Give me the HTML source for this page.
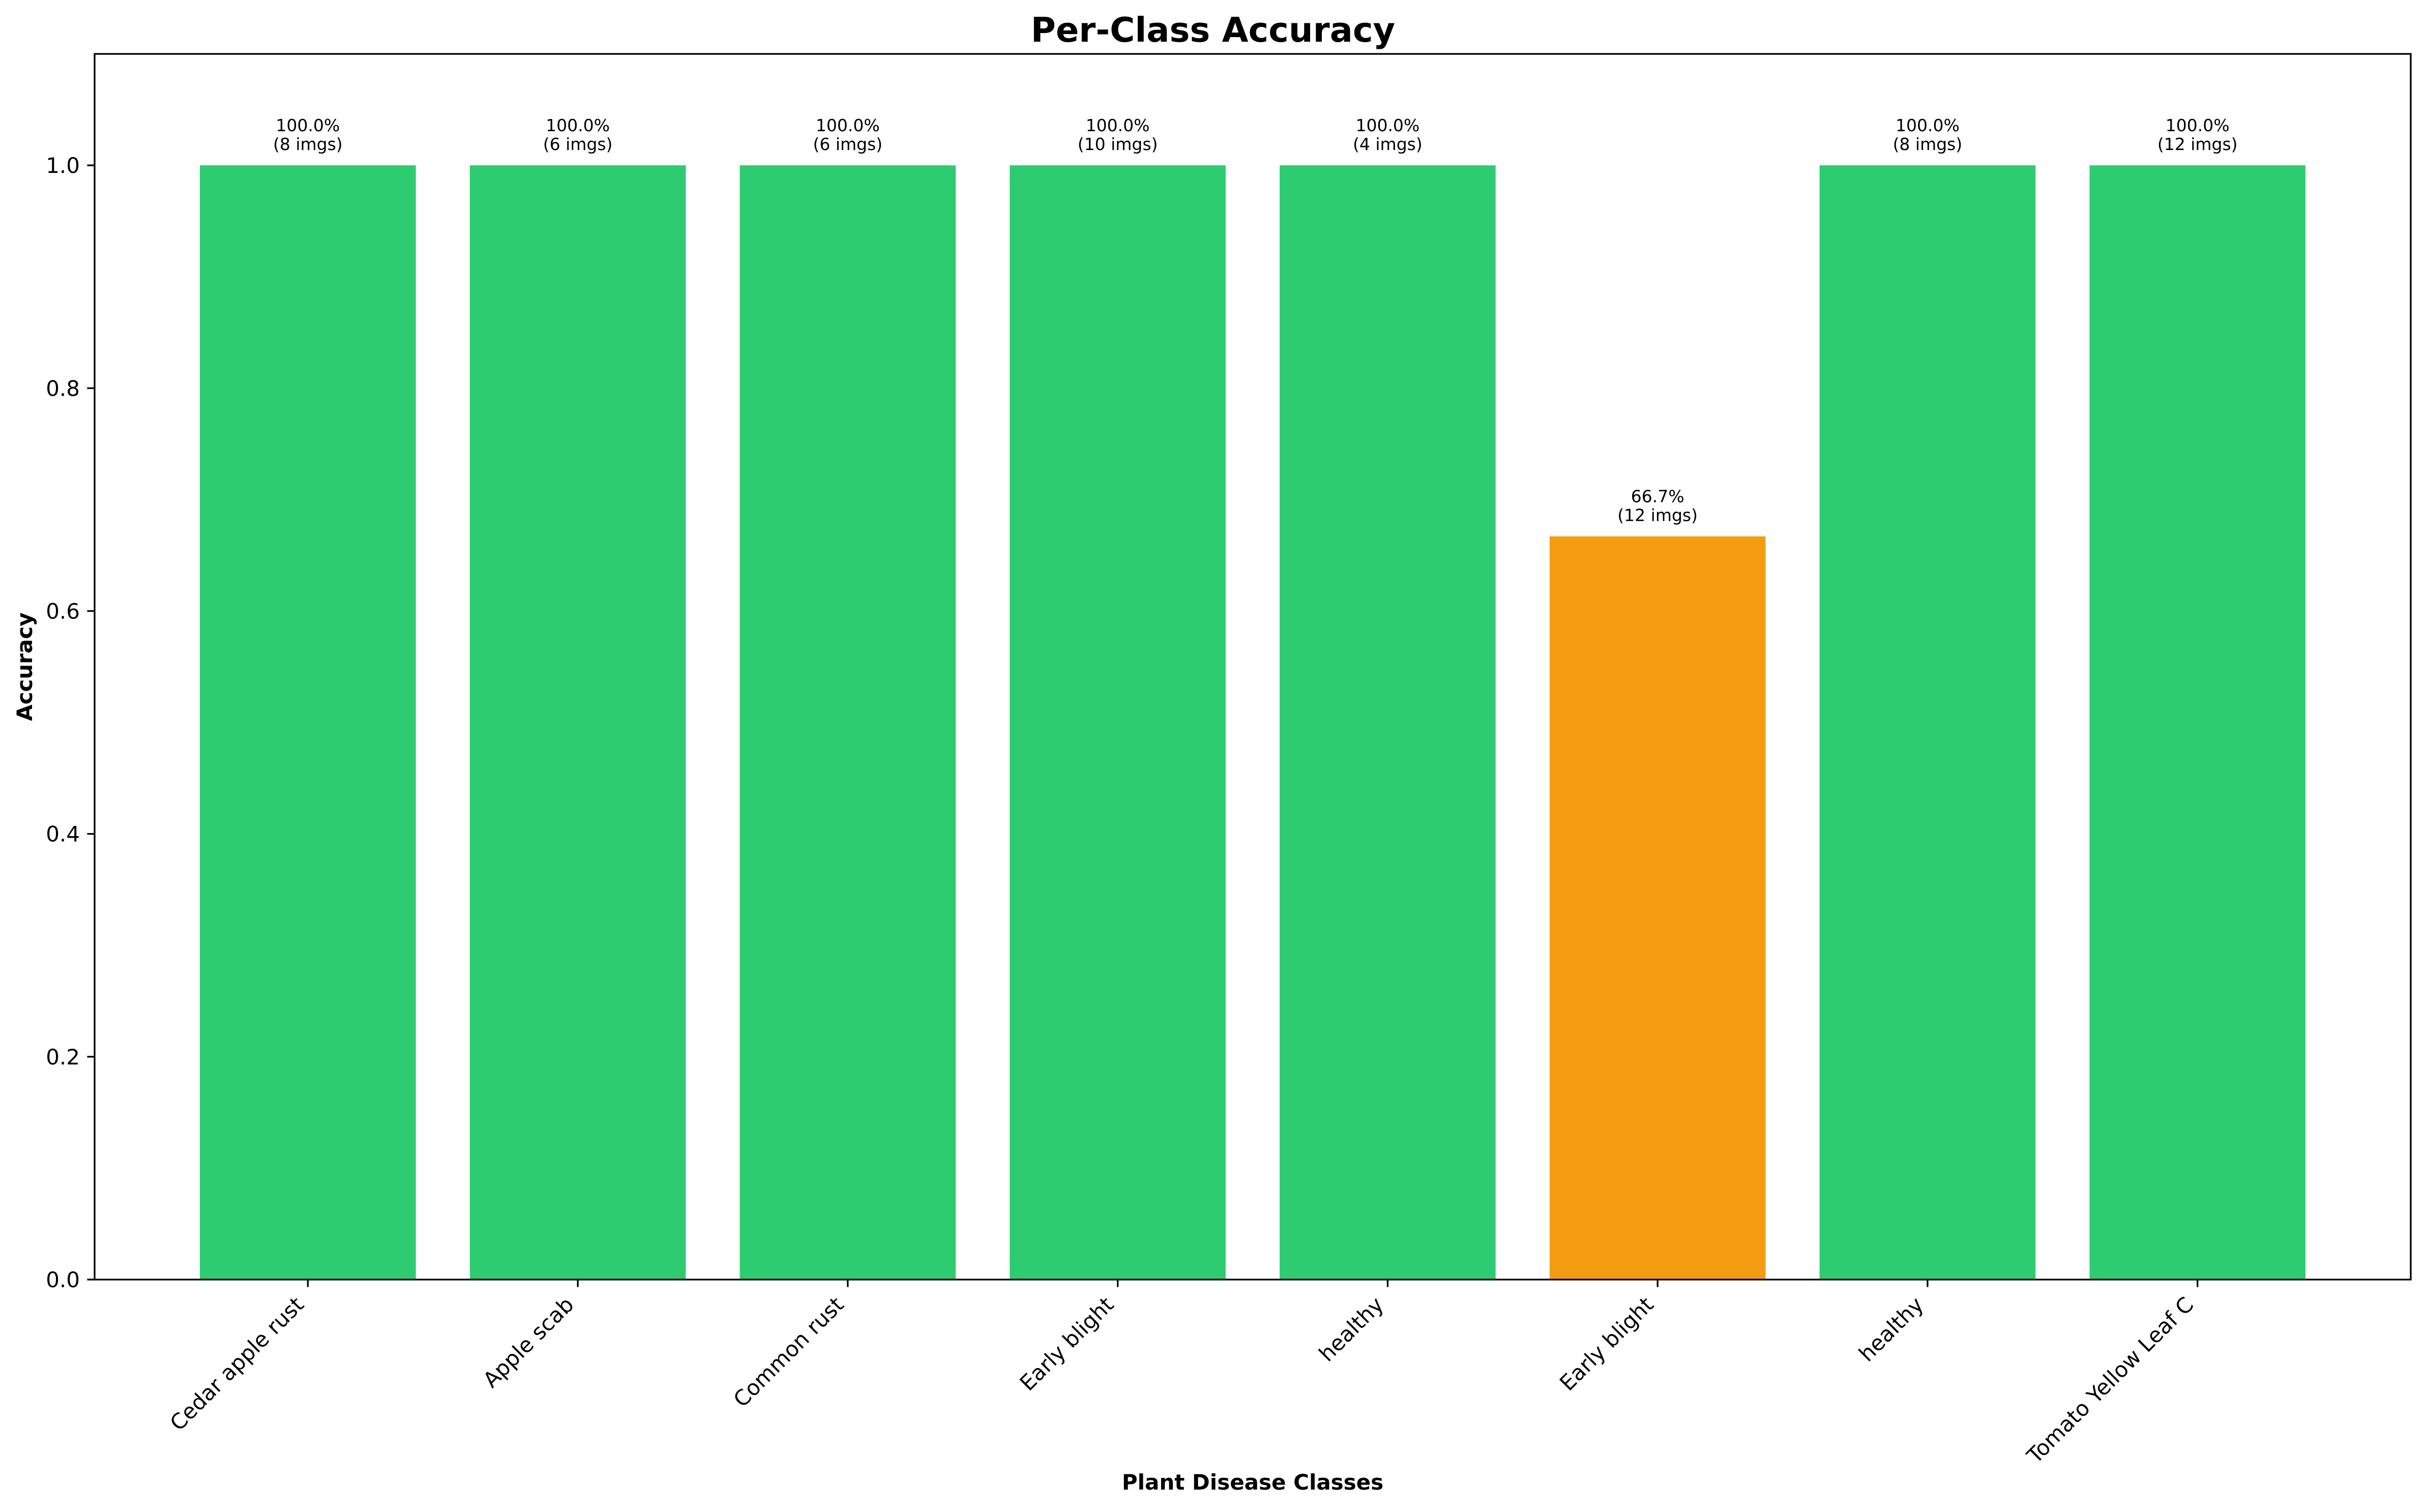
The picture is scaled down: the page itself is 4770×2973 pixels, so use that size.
<!DOCTYPE html>
<html><head><meta charset="utf-8"><style>
html,body{margin:0;padding:0;background:#fff;}
svg{display:block;font-family:"DejaVu Sans","Liberation Sans",sans-serif;}
</style></head><body>
<svg id="chart" xmlns="http://www.w3.org/2000/svg" width="4770" height="2973" viewBox="0 0 4770 2973">
<rect x="0" y="0" width="4770" height="2973" fill="#fff"/>
<text x="2385" y="82" text-anchor="middle" font-size="67" font-weight="bold">Per-Class Accuracy</text>
<text x="2463" y="2929" text-anchor="middle" font-size="42" font-weight="bold">Plant Disease Classes</text>
<text transform="translate(63,1311) rotate(-90)" text-anchor="middle" font-size="42" font-weight="bold">Accuracy</text>
<g id="plot"></g>
</svg>
<script>
const categories = ["Cedar apple rust","Apple scab","Common rust","Early blight","healthy","Early blight","healthy","Tomato Yellow Leaf C"];
const accuracies = [1.0,1.0,1.0,1.0,1.0,0.667,1.0,1.0];
const imageCounts = [8,6,6,10,4,12,8,12];
const yTicks = [0.0,0.2,0.4,0.6,0.8,1.0];

const NS="http://www.w3.org/2000/svg";
const L=186,R=4740,T=106,B=2516;
const xmin=-0.79,xmax=categories.length-1+0.79,ymin=0,ymax=1.1;
const xs=v=>L+(v-xmin)/(xmax-xmin)*(R-L);
const ys=v=>B-(v-ymin)/(ymax-ymin)*(B-T);
const g=document.getElementById('plot');
function mk(tag,attrs,text){const e=document.createElementNS(NS,tag);for(const k in attrs)e.setAttribute(k,attrs[k]);if(text!==undefined)e.textContent=text;g.appendChild(e);return e;}
const bw=xs(0.4)-xs(-0.4);
categories.forEach((c,i)=>{
  const v=accuracies[i];
  const col=v>=0.9?"#2ecc71":(v>=0.5?"#f39c12":"#e74c3c");
  const r=mk('rect',{x:xs(i)-bw/2,y:ys(v),width:bw,height:ys(0)-ys(v),fill:col});
  
  
  const t1=mk('text',{x:xs(i),y:ys(v)-67,'text-anchor':'middle','font-size':'33'},(v*100).toFixed(1)+'%');
  
  
  const t2=mk('text',{x:xs(i),y:ys(v)-30,'text-anchor':'middle','font-size':'33'},'('+imageCounts[i]+' imgs)');
  
  
  const tk=mk('line',{x1:xs(i),x2:xs(i),y1:B,y2:B+14.6,stroke:'#000','stroke-width':3.3});
  
  
  const h=42*0.76;
  const tl=mk('text',{transform:'translate('+(xs(i)-0.707*h-5)+','+(B+30)+') rotate(-45)','text-anchor':'end','dominant-baseline':'hanging','font-size':'42'},c);
  
  
});
yTicks.forEach(v=>{
  const tk=mk('line',{x1:L-14.6,x2:L,y1:ys(v),y2:ys(v),stroke:'#000','stroke-width':3.3});
  
  
  const tl=mk('text',{x:L-29,y:ys(v)+15,'text-anchor':'end','font-size':'42'},v.toFixed(1));
  
  
});
const fr=mk('rect',{x:L,y:T,width:R-L,height:B-T,fill:'none',stroke:'#000','stroke-width':3.3});


</script>
</body></html>
